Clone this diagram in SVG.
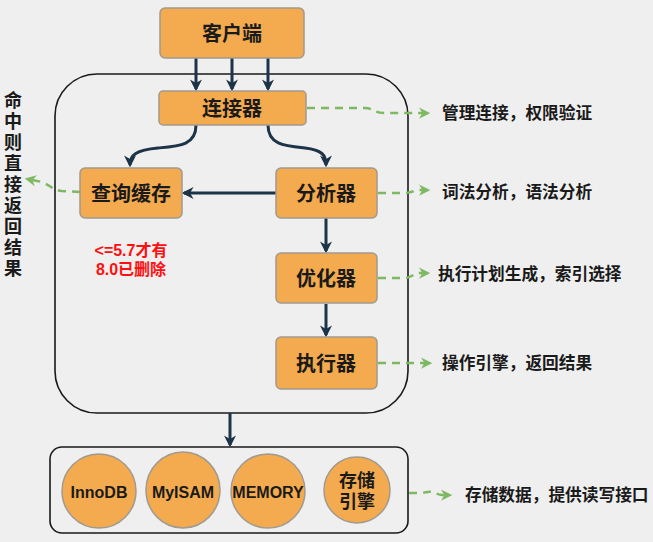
<svg xmlns="http://www.w3.org/2000/svg" width="653" height="542" viewBox="0 0 653 542">
<defs>
<style>
.bg{fill:#efefef}
.box{fill:#f4aa4e;stroke:#a09a90;stroke-width:1.5}
.frame{fill:none;stroke:#1a1a1a;stroke-width:1.6}
.t{font-family:"Liberation Sans","Noto Sans CJK SC",sans-serif;font-weight:bold;fill:#1a1a1a;text-anchor:middle;dominant-baseline:central}
.nt{font-size:20px}
.side{font-size:16.7px;text-anchor:start}
.red{fill:#ff1010;font-size:16px}
.eng{font-size:16px;font-weight:600}
.vt{font-size:18px}
.dk{fill:none;stroke:#1d3347;stroke-width:3;marker-end:url(#ah)}
.gr{fill:none;stroke:#7fb862;stroke-width:2.5;stroke-dasharray:8 6;marker-end:url(#gh)}
</style>
<marker id="ah" viewBox="0 0 10 10" refX="8" refY="5" markerWidth="4" markerHeight="4" orient="auto" markerUnits="strokeWidth">
<path d="M0,0 L10,5 L0,10 L3,5 z" fill="#1d3347"/>
</marker>
<marker id="gh" viewBox="0 0 10 10" refX="8" refY="5" markerWidth="4.5" markerHeight="4.5" orient="auto" markerUnits="strokeWidth">
<path d="M0,0 L10,5 L0,10 L3,5 z" fill="#7fb862"/>
</marker>
</defs>
<rect class="bg" x="0" y="0" width="653" height="542"/>

<g id="server-frame">
<rect class="frame" x="55" y="74" width="353" height="339" rx="42" ry="42"/>
</g>
<g id="engine-frame">
<rect class="frame" x="50" y="447" width="358" height="86" rx="12" ry="12"/>
</g>

<g id="connectors">
<path class="dk" d="M196,58 L196,89"/>
<path class="dk" d="M232,58 L232,89"/>
<path class="dk" d="M268,58 L268,89"/>
<path class="dk" d="M196,125 C196,145 180,146 158,148 C136,150 130,155 130,165"/>
<path class="dk" d="M268,125 C268,145 285,146 305,148 C322,150 326,155 326,165"/>
<path class="dk" d="M276,193 L184,193"/>
<path class="dk" d="M326,218 L326,251"/>
<path class="dk" d="M326,304 L326,335"/>
<path class="dk" d="M230,413 L230,445"/>
<path class="gr" d="M307,108 L365,108 C373,108 374,113 384,113 L428,113"/>
<path class="gr" d="M378,193 L405,193 C412,193 413,190 420,190 L428,190"/>
<path class="gr" d="M378,278 L405,278 C412,278 413,273 420,273 L428,273"/>
<path class="gr" d="M378,363 L430,363"/>
<path class="gr" d="M80,192 L62,191 C52,190 50,185 42,182 L27,179"/>
<path class="gr" d="M409,493 L420,493 C425,493 428,491 432,492 C436,493 438,495 442,495 L450,495"/>
</g>

<g id="client">
<rect class="box" x="160" y="8" width="144" height="50" rx="5"/>
<text class="t nt" x="232" y="34">客户端</text>
</g>
<g id="connector">
<rect class="box" x="159" y="91" width="147" height="34" rx="4"/>
<text class="t nt" x="232" y="109">连接器</text>
</g>
<g id="query-cache">
<rect class="box" x="80" y="168" width="102" height="50" rx="5"/>
<text class="t nt" x="131" y="194">查询缓存</text>
</g>
<g id="analyzer">
<rect class="box" x="276" y="168" width="101" height="50" rx="5"/>
<text class="t nt" x="326" y="194">分析器</text>
</g>
<g id="optimizer">
<rect class="box" x="276" y="253" width="101" height="50" rx="5"/>
<text class="t nt" x="326" y="279">优化器</text>
</g>
<g id="executor">
<rect class="box" x="276" y="337" width="101" height="52" rx="5"/>
<text class="t nt" x="326" y="364">执行器</text>
</g>

<g id="innodb">
<ellipse class="box" cx="99" cy="491" rx="37" ry="37"/>
<text class="t eng" x="99" y="492">InnoDB</text>
</g>
<g id="myisam">
<ellipse class="box" cx="183" cy="490" rx="37" ry="38"/>
<text class="t eng" x="183" y="492">MyISAM</text>
</g>
<g id="memory">
<ellipse class="box" cx="268" cy="491" rx="37" ry="37"/>
<text class="t eng" x="268" y="492">MEMORY</text>
</g>
<g id="storage-engine">
<ellipse class="box" cx="357" cy="490" rx="33" ry="33"/>
<text class="t" style="font-size:18px;font-weight:600" x="357" y="481">存储</text>
<text class="t" style="font-size:18px;font-weight:600" x="357" y="502">引擎</text>
</g>

<g id="labels">
<text class="t side" x="442" y="113">管理连接，权限验证</text>
<text class="t side" x="442" y="192">词法分析，语法分析</text>
<text class="t side" x="438" y="274">执行计划生成，索引选择</text>
<text class="t side" x="442" y="363">操作引擎，返回结果</text>
<text class="t side" x="465" y="495">存储数据，提供读写接口</text>
<text class="t red" x="131" y="250">&lt;=5.7才有</text>
<text class="t red" x="131" y="269">8.0已删除</text>
<text class="t vt" x="13" y="101">命</text>
<text class="t vt" x="13" y="122">中</text>
<text class="t vt" x="13" y="143">则</text>
<text class="t vt" x="13" y="164">直</text>
<text class="t vt" x="13" y="185">接</text>
<text class="t vt" x="13" y="206">返</text>
<text class="t vt" x="13" y="227">回</text>
<text class="t vt" x="13" y="248">结</text>
<text class="t vt" x="13" y="269">果</text>
</g>
</svg>
